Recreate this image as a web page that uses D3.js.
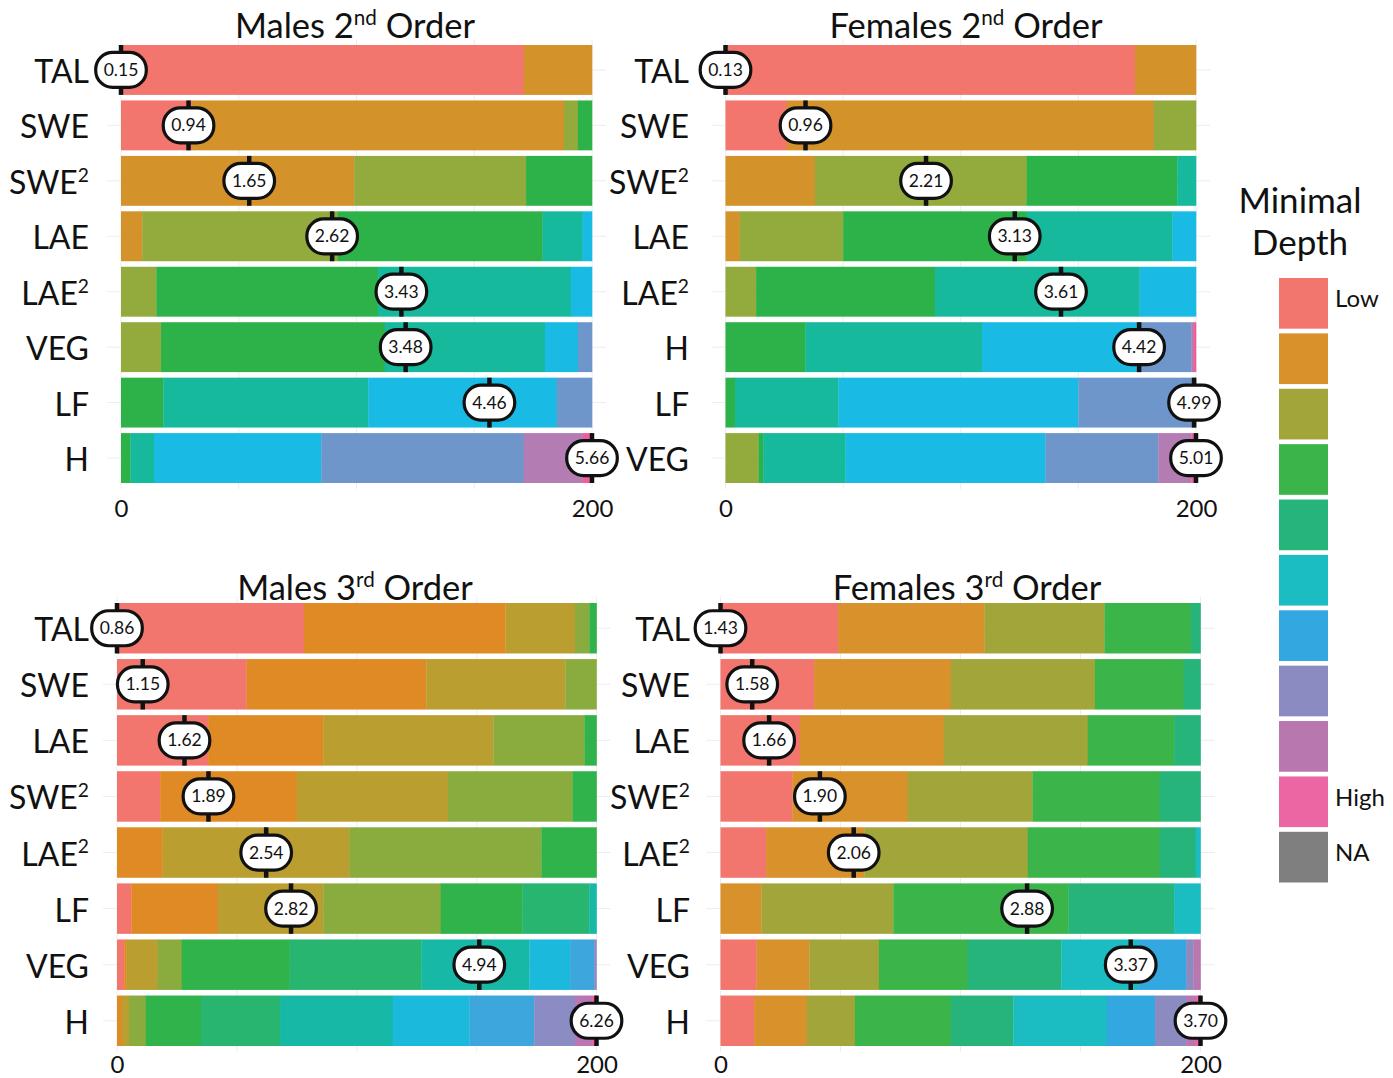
<!DOCTYPE html>
<html>
<head>
<meta charset="utf-8">
<script src="https://cdn.jsdelivr.net/npm/d3@7"></script>
<style>
  body { margin: 0; background: #fff; }
  svg { font-family: Lato, "DejaVu Sans", sans-serif; }
</style>
</head>
<body>
<svg id="chart" width="1393" height="1078"></svg>
<script>
// ---- data (counts of trees per minimal depth, depth 0 first) ----
const titleM2 = "Males 2^nd Order";
const varsM2 = ["TAL", "SWE", "SWE^2", "LAE", "LAE^2", "VEG", "LF", "H"];
const countsM2 = [
  [171, 29],
  [30, 158, 6, 6],
  [0, 99, 73, 28],
  [0, 9, 83, 87, 17, 4],
  [0, 0, 15, 94, 82, 9],
  [0, 0, 17, 95, 68, 14, 6],
  [0, 0, 0, 18, 87, 80, 15],
  [0, 0, 0, 4, 10, 71, 86, 25, 4]
];
const meansM2 = [0.15, 0.94, 1.65, 2.62, 3.43, 3.48, 4.46, 5.66];

const titleF2 = "Females 2^nd Order";
const varsF2 = ["TAL", "SWE", "SWE^2", "LAE", "LAE^2", "H", "LF", "VEG"];
const countsF2 = [
  [174, 26],
  [26, 156, 18],
  [0, 38, 90, 64, 8],
  [0, 6, 44, 78, 62, 10],
  [0, 0, 13, 76, 87, 24],
  [0, 0, 0, 34, 75, 66, 23, 1, 1],
  [0, 0, 0, 4, 44, 102, 50],
  [0, 0, 14, 2, 35, 85, 48, 14, 2]
];
const meansF2 = [0.13, 0.96, 2.21, 3.13, 3.61, 4.42, 4.99, 5.01];

const titleM3 = "Males 3^rd Order";
const varsM3 = ["TAL", "SWE", "LAE", "SWE^2", "LAE^2", "LF", "VEG", "H"];
const countsM3 = [
  [78, 84, 29, 6, 3],
  [54, 75, 58, 13],
  [38, 48, 71, 38, 5],
  [18, 57, 63, 52, 10],
  [0, 19, 78, 80, 23],
  [6, 36, 44, 49, 34, 28, 3],
  [3, 1, 13, 10, 45, 55, 45, 17, 10, 1],
  [0, 2, 3, 7, 23, 33, 47, 32, 27, 17, 7, 2]
];
const meansM3 = [0.86, 1.15, 1.62, 1.89, 2.54, 2.82, 4.94, 6.26];

const titleF3 = "Females 3^rd Order";
const varsF3 = ["TAL", "SWE", "LAE", "SWE^2", "LAE^2", "LF", "VEG", "H"];
const countsF3 = [
  [49, 61, 50, 36, 4],
  [39, 57, 60, 37, 7],
  [33, 60, 60, 36, 11],
  [30, 48, 52, 53, 17],
  [19, 41, 68, 55, 15, 2],
  [0, 17, 55, 73, 44, 11],
  [15, 22, 29, 37, 39, 32, 20, 3, 3],
  [14, 22, 20, 40, 26, 39, 20, 13, 4, 2]
];
const meansF3 = [1.43, 1.58, 1.66, 1.90, 2.06, 2.88, 3.37, 3.70];

const nTrees = 200;
const tickValues = [0, 200];

// palettes (one per panel, low -> high depth)
const pal2nd = ["#F2756E", "#D4922A", "#93AA3D", "#2DB24A", "#16B99C", "#19BAE3", "#6F96CB", "#B37CB3", "#EE5E9B"];
const palM3 = ["#F2756E", "#E08A26", "#BB9E30", "#8AAC3E", "#2FB34A", "#27B570", "#17B9A6", "#1BBADC", "#3DA6DC", "#8C8CC4", "#B877B4", "#EC64A5"];
const palF3 = ["#F2756E", "#D8912B", "#A2A63A", "#3BB54A", "#26B47B", "#1BBDC2", "#33A8E0", "#8B8BC2", "#B877AF", "#EC66A4"];

const legendTitle = ["Minimal", "Depth"];
const legendColors = palF3.concat(["#7F7F7F"]);
const legendLabels = ["Low", "", "", "", "", "", "", "", "", "High", "NA"];

const svg = d3.select("#chart");

// text with ^superscripts
function richText(sel, str, fs) {
  const parts = str.split(/(\^[A-Za-z0-9]+)/).filter(s => s.length);
  let raised = false;
  parts.forEach(part => {
    if (part[0] === "^") {
      sel.append("tspan").attr("font-size", fs * 0.6).attr("dy", -fs * 0.38).text(part.slice(1));
      raised = true;
    } else {
      const t = sel.append("tspan").attr("font-size", fs).text(part);
      if (raised) { t.attr("dy", fs * 0.38); raised = false; }
    }
  });
}

function drawPanel(p) {
  const L = p.layout;
  const x = d3.scaleLinear().domain([0, nTrees]).range([L.x0, L.x1]);
  const y = d3.scaleBand().domain(p.vars).range([L.y0, L.y1]).paddingInner(0.1);
  const g = svg.append("g");

  // faint grid
  g.selectAll("line.vg").data([0, 50, 100, 150, 200]).join("line")
    .attr("x1", d => x(d)).attr("x2", d => x(d))
    .attr("y1", L.y0 - 6).attr("y2", L.y1 + 6)
    .attr("stroke", "#EDEDED").attr("stroke-width", 1);
  g.selectAll("line.hg").data(p.vars).join("line")
    .attr("x1", L.x0 - 14).attr("x2", L.x1 + 14)
    .attr("y1", d => y(d) + y.bandwidth() / 2).attr("y2", d => y(d) + y.bandwidth() / 2)
    .attr("stroke", "#EDEDED").attr("stroke-width", 1);

  // stacked bars
  p.vars.forEach((v, i) => {
    let acc = 0;
    const segs = p.counts[i].map((c, depth) => {
      const s = { depth: depth, start: acc, end: acc + c };
      acc += c;
      return s;
    }).filter(s => s.end > s.start);
    g.append("g").selectAll("rect").data(segs).join("rect")
      .attr("x", s => x(s.start))
      .attr("width", s => x(s.end) - x(s.start) + 0.3)
      .attr("y", y(v))
      .attr("height", y.bandwidth())
      .attr("fill", s => p.pal[s.depth]);
  });

  // row labels
  p.vars.forEach(v => {
    const t = g.append("text")
      .attr("x", L.labelX)
      .attr("y", y(v) + y.bandwidth() / 2 + 13)
      .attr("text-anchor", "end")
      .attr("fill", "#111");
    richText(t, v, 32);
  });

  // axis
  const axis = d3.axisBottom(x).tickValues(tickValues).tickSize(0).tickPadding(0).tickFormat(d3.format("d"));
  const ax = g.append("g").attr("transform", `translate(0,${L.tickY})`).call(axis);
  ax.select(".domain").remove();
  ax.selectAll("text").attr("font-size", 24).attr("font-family", "Lato, sans-serif").attr("fill", "#111");

  // mean minimal depth markers
  const mn = d3.min(p.means), mx = d3.max(p.means);
  p.vars.forEach((v, i) => {
    const xv = x((p.means[i] - mn) / (mx - mn) * nTrees);
    const cy = y(v) + y.bandwidth() / 2;
    g.append("line")
      .attr("x1", xv).attr("x2", xv)
      .attr("y1", y(v)).attr("y2", y(v) + y.bandwidth())
      .attr("stroke", "#111").attr("stroke-width", 4.5);
    const lg = g.append("g");
    const rect = lg.append("rect");
    const txt = lg.append("text")
      .attr("x", xv).attr("y", cy + 6)
      .attr("text-anchor", "middle")
      .attr("font-size", 17.5).attr("fill", "#111")
      .text(p.means[i].toFixed(2));
    const w = txt.node().getComputedTextLength() + 16;
    rect.attr("x", xv - w / 2).attr("y", cy - 17.5).attr("width", w).attr("height", 35)
      .attr("rx", 17).attr("ry", 17)
      .attr("fill", "#fff").attr("stroke", "#111").attr("stroke-width", 3.2);
  });

  // title
  const tt = svg.append("text").attr("x", L.titleX).attr("y", L.titleY)
    .attr("text-anchor", "middle").attr("fill", "#111");
  richText(tt, p.title, 34.5);
}

const panels = [
  { title: titleM2, vars: varsM2, counts: countsM2, means: meansM2, pal: pal2nd,
    layout: { x0: 121, x1: 592, y0: 45, y1: 483, labelX: 89, tickY: 500, titleX: 355, titleY: 38 } },
  { title: titleF2, vars: varsF2, counts: countsF2, means: meansF2, pal: pal2nd,
    layout: { x0: 725.5, x1: 1196, y0: 45, y1: 483, labelX: 689, tickY: 500, titleX: 966, titleY: 38 } },
  { title: titleM3, vars: varsM3, counts: countsM3, means: meansM3, pal: palM3,
    layout: { x0: 117, x1: 596.5, y0: 603, y1: 1046, labelX: 89, tickY: 1056, titleX: 355, titleY: 600 } },
  { title: titleF3, vars: varsF3, counts: countsF3, means: meansF3, pal: palF3,
    layout: { x0: 720.5, x1: 1200.5, y0: 603, y1: 1046, labelX: 690, tickY: 1056, titleX: 967, titleY: 600 } }
];
panels.forEach(drawPanel);

// legend
const lg = svg.append("g");
legendTitle.forEach((t, i) => {
  lg.append("text").attr("x", 1300).attr("y", 213 + i * 42)
    .attr("text-anchor", "middle").attr("font-size", 35).attr("fill", "#111").text(t);
});
const ky = d3.scaleBand().domain(d3.range(legendColors.length)).range([278, 882.5]).paddingInner(0.085);
lg.selectAll("rect").data(legendColors).join("rect")
  .attr("x", 1279).attr("y", (d, i) => ky(i))
  .attr("width", 49).attr("height", ky.bandwidth())
  .attr("fill", d => d);
lg.selectAll("text.lab").data(legendLabels).join("text")
  .attr("class", "lab")
  .attr("x", 1335).attr("y", (d, i) => ky(i) + ky.bandwidth() / 2 + 4)
  .attr("font-size", 24).attr("fill", "#111").text(d => d);
</script>
</body>
</html>
